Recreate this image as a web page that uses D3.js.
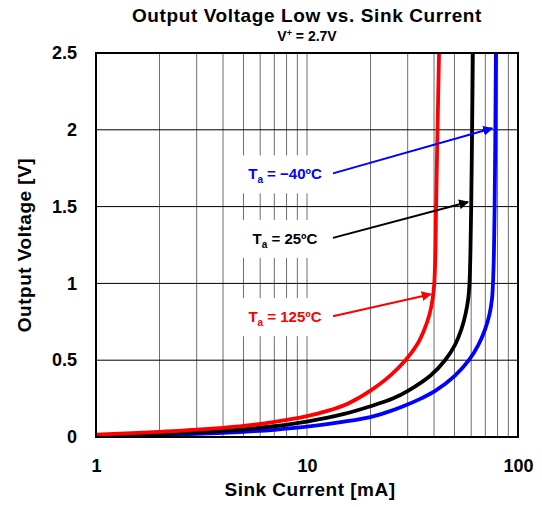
<!DOCTYPE html>
<html>
<head>
<meta charset="utf-8">
<script src="https://cdn.jsdelivr.net/npm/d3@7"></script>
<style>
  body { margin: 0; background: #fff; }
  svg { display: block; font-family: Arial, 'Liberation Sans', sans-serif; font-weight: bold; }
</style>
</head>
<body>
<figure id="vol" style="margin:0"></figure>
<script>
// sink current [mA] / output voltage [V]
const currentCold = [1, 2, 3, 5, 7, 10, 15, 20, 23.8, 28.6, 34.6, 40.5, 50.3, 58.5, 64.9, 69.8, 73.3, 75.3, 76.1, 76.9, 77.5, 78.1, 78.6];
const voltageCold = [0.007, 0.013, 0.02, 0.034, 0.047, 0.067, 0.1, 0.13, 0.16, 0.2, 0.25, 0.3, 0.4, 0.5, 0.6, 0.7, 0.8, 0.9, 1.0, 1.2, 1.5, 2.0, 2.5];

const currentRoom = [1, 2, 3, 5, 7, 10, 15, 20, 25.5, 30.1, 38.5, 45.1, 50.3, 53.9, 56.4, 58.1, 58.9, 59.5, 60, 60.6, 61.1];
const voltageRoom = [0.01, 0.02, 0.03, 0.05, 0.07, 0.1, 0.15, 0.2, 0.25, 0.3, 0.4, 0.5, 0.6, 0.7, 0.8, 0.9, 1.0, 1.2, 1.5, 2.0, 2.5];

const currentHot = [1, 2, 3, 4, 5, 7, 10, 12.5, 15.2, 17.6, 19.9, 24.8, 29.3, 33.2, 36, 38.1, 39.4, 40.1, 40.6, 40.9, 41.55, 42.25];
const voltageHot = [0.015, 0.033, 0.048, 0.06, 0.072, 0.098, 0.136, 0.17, 0.21, 0.255, 0.3, 0.4, 0.5, 0.6, 0.7, 0.8, 0.9, 1.0, 1.2, 1.5, 2.0, 2.5];

const tempLabels = ['−40ºC', '25ºC', '125ºC'];
const xTicks = [1, 10, 100];
const yTicks = [0, 0.5, 1, 1.5, 2, 2.5];

const width = 542, height = 507;
const margin = { top: 53, right: 24, bottom: 70, left: 96 };
const w = width - margin.left - margin.right;
const h = height - margin.top - margin.bottom;

const series = [
    { name: tempLabels[0], color: '#0000ff', pts: currentCold.map((c, i) => [c, voltageCold[i]]) },
    { name: tempLabels[1], color: '#000000', pts: currentRoom.map((c, i) => [c, voltageRoom[i]]) },
    { name: tempLabels[2], color: '#ff0000', pts: currentHot.map((c, i) => [c, voltageHot[i]]) },
];

const svg = d3.select('figure#vol').append('svg')
    .attr('width', width)
    .attr('height', height);

// titles
svg.append('text').text('Output Voltage Low vs. Sink Current')
    .attr('x', margin.left + w / 2).attr('y', 22)
    .attr('text-anchor', 'middle').attr('font-size', 19).attr('letter-spacing', 0.6);
const sub = svg.append('text')
    .attr('x', margin.left + w / 2).attr('y', 41)
    .attr('text-anchor', 'middle').attr('font-size', 14);
sub.append('tspan').text('V');
sub.append('tspan').text('+').attr('font-size', 9).attr('dy', -5);
sub.append('tspan').text(' = 2.7V').attr('dy', 5);

const g = svg.append('g').attr('transform', 'translate(' + margin.left + ',' + margin.top + ')');

const x = d3.scaleLog().domain([1, 100]).range([0, w]);
const y = d3.scaleLinear().domain([0, 2.5]).range([h, 0]);

// grid
const minor = d3.range(2, 10).concat(d3.range(20, 100, 10));
g.append('g').selectAll('line')
    .data(minor.concat([10]))
    .enter().append('line')
    .attr('x1', (d) => x(d)).attr('x2', (d) => x(d))
    .attr('y1', 0).attr('y2', h)
    .attr('stroke', '#6e6e6e').attr('stroke-width', 1);
g.append('g').selectAll('line')
    .data(yTicks.slice(1, -1))
    .enter().append('line')
    .attr('x1', 0).attr('x2', w)
    .attr('y1', (d) => y(d)).attr('y2', (d) => y(d))
    .attr('stroke', '#000').attr('stroke-width', 1);

// white boxes behind labels
const boxY = [1.71, 1.29, 0.78];
g.append('g').selectAll('rect')
    .data(boxY)
    .enter().append('rect')
    .attr('x', 134).attr('width', 108)
    .attr('y', (d) => y(d) - 19).attr('height', 38)
    .attr('fill', '#fff');

// axes (labels only, frame drawn separately)
const xAxis = g.append('g').attr('transform', 'translate(0,' + h + ')')
    .call(d3.axisBottom(x).tickValues(xTicks).tickFormat(d3.format('d')).tickSize(0).tickPadding(22));
const yAxis = g.append('g')
    .call(d3.axisLeft(y).tickValues(yTicks).tickFormat((d) => d).tickSize(0).tickPadding(19));
[xAxis, yAxis].forEach((a) => {
    a.select('.domain').remove();
    a.selectAll('text').attr('font-size', 18).attr('font-family', null).attr('fill', '#000');
});

// curves
const line = d3.line().x((d) => x(d[0])).y((d) => y(d[1])).curve(d3.curveCatmullRom.alpha(0.5));
g.append('g').selectAll('path')
    .data(series)
    .enter().append('path')
    .attr('d', (d) => line(d.pts))
    .attr('fill', 'none')
    .attr('stroke', (d) => d.color)
    .attr('stroke-width', 3.8)
    .attr('stroke-linejoin', 'round');

g.append('rect').attr('width', w).attr('height', h)
    .attr('fill', 'none').attr('stroke', '#000').attr('stroke-width', 2);

// labels with arrows
const notes = [
    { s: series[0], ly: 1.71, tip: [75.5, 2.01] },
    { s: series[1], ly: 1.29, tip: [58, 1.53] },
    { s: series[2], ly: 0.78, tip: [38.6, 0.93] },
];
const defs = svg.append('defs');
notes.forEach((n, i) => {
    defs.append('marker').attr('id', 'ah' + i)
        .attr('viewBox', '0 0 10 10').attr('refX', 9).attr('refY', 5)
        .attr('markerWidth', 5).attr('markerHeight', 5).attr('orient', 'auto')
        .append('path').attr('d', 'M0,0L10,5L0,10z').attr('fill', n.s.color);
    const t = g.append('text')
        .attr('x', 189).attr('y', y(n.ly) + 5)
        .attr('text-anchor', 'middle').attr('font-size', 15).attr('fill', n.s.color);
    t.append('tspan').text('T');
    t.append('tspan').text('a').attr('font-size', 10).attr('dy', 4);
    t.append('tspan').text(' = ' + n.s.name).attr('dy', -4);
    g.append('line')
        .attr('x1', 237).attr('y1', y(n.ly) - 1)
        .attr('x2', x(n.tip[0])).attr('y2', y(n.tip[1]))
        .attr('stroke', n.s.color).attr('stroke-width', 2)
        .attr('marker-end', 'url(#ah' + i + ')');
});

svg.append('text').text('Sink Current [mA]')
    .attr('x', margin.left + w / 2 + 3).attr('y', 496)
    .attr('text-anchor', 'middle').attr('font-size', 19).attr('letter-spacing', 0.5);
svg.append('text').text('Output Voltage [V]')
    .attr('transform', 'translate(31,' + (margin.top + h / 2) + ') rotate(-90)')
    .attr('text-anchor', 'middle').attr('font-size', 19).attr('letter-spacing', 0.5);
</script>
</body>
</html>
